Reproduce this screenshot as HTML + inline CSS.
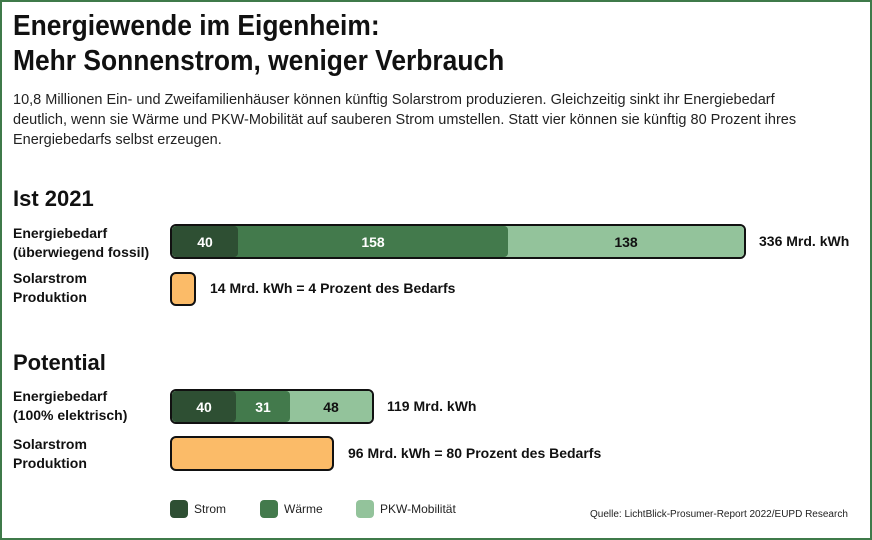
<!DOCTYPE html>
<html><head><meta charset="utf-8"><style>
body{margin:0;width:872px;height:540px;overflow:hidden;background:#fff;font-family:"Liberation Sans",sans-serif;color:#111}
.frame{position:absolute;left:0;top:0;width:868px;height:536px;border:2px solid #3f7a4a}
.a{position:absolute;white-space:nowrap}
.t{font-weight:bold;font-size:29px;transform:scaleX(0.91);transform-origin:left top;line-height:35px}
.p{font-size:14.5px;line-height:20px;color:#222}
.h{font-weight:bold;font-size:22px}
.l{font-weight:bold;font-size:14px;line-height:19px;transform:scaleX(1.0);transform-origin:left top}
.v{font-weight:bold;font-size:14px}
.bar{position:absolute;border:2px solid #111;border-radius:6px;box-sizing:border-box;overflow:hidden;background:#fff}
.seg{position:absolute;top:0;bottom:0;color:#fff;font-weight:bold;font-size:14px;display:flex;align-items:center;justify-content:center}
.sq{position:absolute;width:18px;height:18px;border-radius:4px}
.lg{font-size:12px;color:#222}
</style></head><body>
<div class="frame"></div>
<div class="a t" style="left:13px;top:9px">Energiewende im Eigenheim:<br>Mehr Sonnenstrom, weniger Verbrauch</div>
<div class="a p" style="left:13px;top:90px">10,8 Millionen Ein- und Zweifamilienhäuser können künftig Solarstrom produzieren. Gleichzeitig sinkt ihr Energiebedarf<br>deutlich, wenn sie Wärme und PKW-Mobilität auf sauberen Strom umstellen. Statt vier können sie künftig 80 Prozent ihres<br>Energiebedarfs selbst erzeugen.</div>
<div class="a h" style="left:13px;top:186px">Ist 2021</div>
<div class="a l" style="left:13px;top:224px">Energiebedarf<br>(überwiegend fossil)</div>
<div class="bar" style="left:170px;top:224px;width:576px;height:35px">
<div class="seg" style="left:0;width:66px;background:#2e4f33;z-index:2;border-radius:4px">40</div>
<div class="seg" style="left:0;width:336px;background:#437a4c;padding-left:66px;box-sizing:border-box;border-radius:4px;z-index:1">158</div>
<div class="seg" style="left:0;width:572px;background:#93c39b;padding-left:336px;box-sizing:border-box;color:#111">138</div>
</div>
<div class="a v" style="left:759px;top:233px">336 Mrd. kWh</div>
<div class="a l" style="left:13px;top:269px">Solarstrom<br>Produktion</div>
<div class="bar" style="left:170px;top:272px;width:26px;height:34px;background:#fbbb68"></div>
<div class="a v" style="left:210px;top:280px">14 Mrd. kWh = 4 Prozent des Bedarfs</div>
<div class="a h" style="left:13px;top:350px">Potential</div>
<div class="a l" style="left:13px;top:387px">Energiebedarf<br>(100% elektrisch)</div>
<div class="bar" style="left:170px;top:389px;width:204px;height:35px">
<div class="seg" style="left:0;width:64px;background:#2e4f33;z-index:2;border-radius:4px">40</div>
<div class="seg" style="left:0;width:118px;background:#437a4c;padding-left:64px;box-sizing:border-box;border-radius:4px;z-index:1">31</div>
<div class="seg" style="left:0;width:200px;background:#93c39b;padding-left:118px;box-sizing:border-box;color:#111">48</div>
</div>
<div class="a v" style="left:387px;top:398px">119 Mrd. kWh</div>
<div class="a l" style="left:13px;top:435px">Solarstrom<br>Produktion</div>
<div class="bar" style="left:170px;top:436px;width:164px;height:35px;background:#fbbb68"></div>
<div class="a v" style="left:348px;top:445px">96 Mrd. kWh = 80 Prozent des Bedarfs</div>
<div class="sq" style="left:170px;top:500px;background:#2e4f33"></div>
<div class="a lg" style="left:194px;top:502px">Strom</div>
<div class="sq" style="left:260px;top:500px;background:#437a4c"></div>
<div class="a lg" style="left:284px;top:502px">Wärme</div>
<div class="sq" style="left:356px;top:500px;background:#93c39b"></div>
<div class="a lg" style="left:380px;top:502px">PKW-Mobilität</div>
<div class="a" style="left:590px;top:509px;font-size:10px;color:#222">Quelle: LichtBlick-Prosumer-Report 2022/EUPD Research</div>
</body></html>
